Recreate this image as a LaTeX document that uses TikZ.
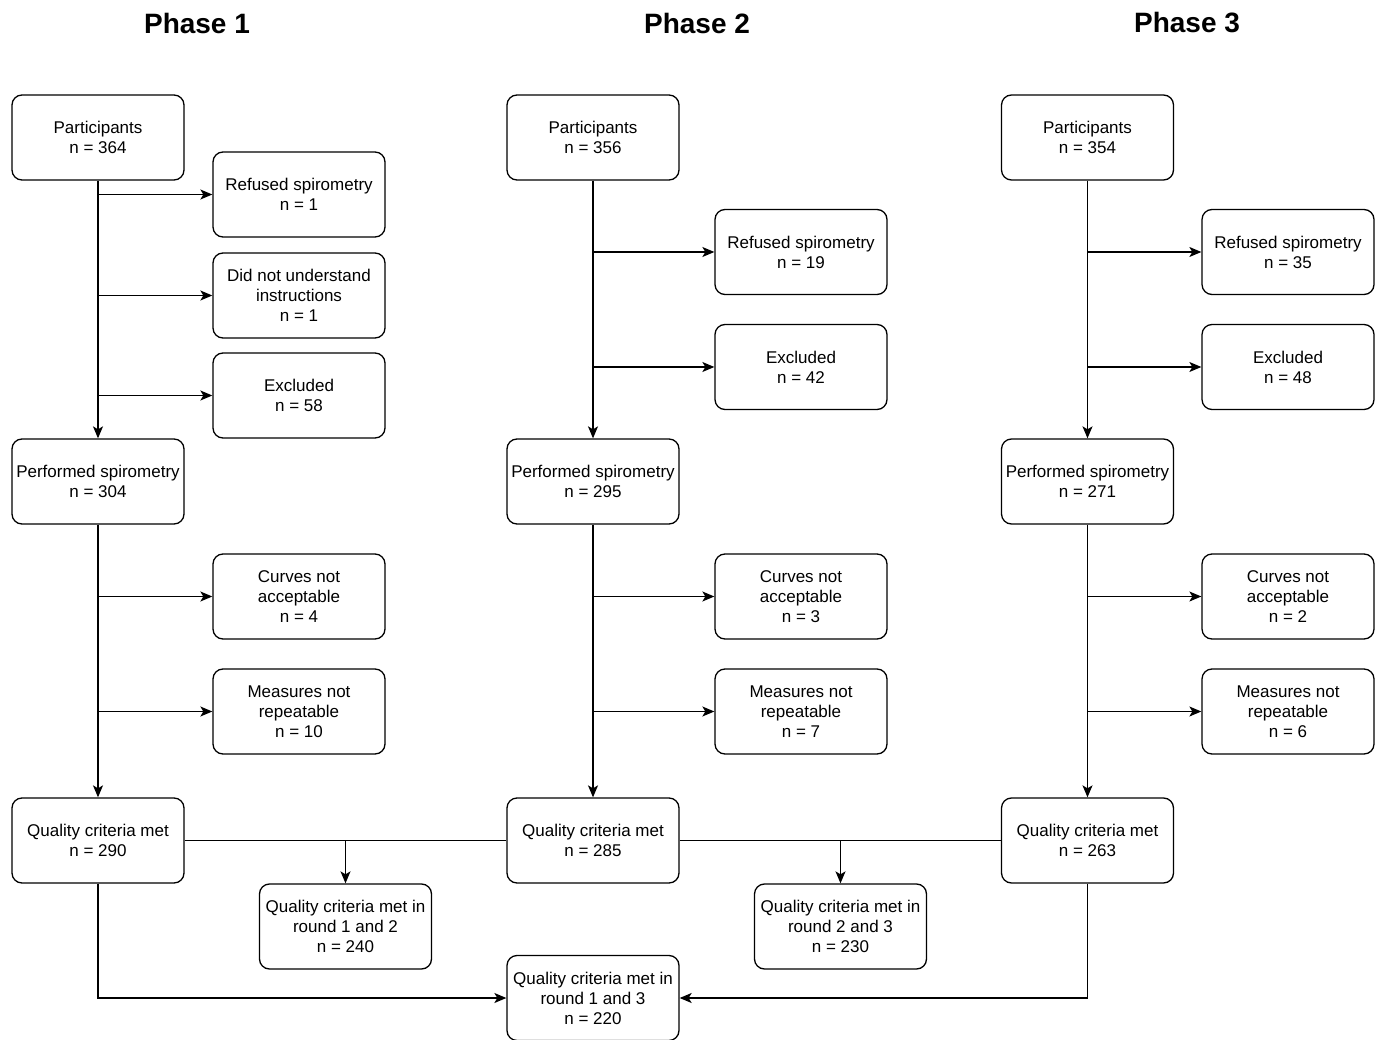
\documentclass[tikz,border=0pt]{standalone}
\usepackage{fontspec}
\setmainfont{Liberation Sans}
\usetikzlibrary{arrows.meta}

\tikzset{
	flowbox/.style = {draw, line width = 1.3pt, rounded corners = 10pt, minimum width = 172pt, minimum height = 85pt, align = center, inner sep = 2pt, font = \fontsize{17}{20}\selectfont},
	flowline/.style = {line width = 1.3pt},
	flowarrow/.style = {line width = 1.3pt, -{Stealth[length = 12pt, width = 10pt, inset = 3pt]}},
	phase/.style = {font = \fontsize{28}{32}\selectfont\bfseries}
}

\begin{document}
\begin{tikzpicture}[x = 1pt, y = -1pt]
	\useasboundingbox (0, 0) rectangle (1379, 1040);
	\node[phase] (t1) at (197, 23) {Phase 1};
	\node[phase] (t2) at (697, 23) {Phase 2};
	\node[phase] (t3) at (1187, 23) {Phase 3};
%%%%%%%%%%% phase 1
	\node[flowbox] (part1) at (98, 137.5) {Participants\\n = 364};
	\node[flowbox] (refu1) at (299, 194.5) {Refused spirometry\\n = 1};
	\node[flowbox] (dnu1) at (299, 295.5) {Did not understand\\instructions\\n = 1};
	\node[flowbox] (excl1) at (299, 395.5) {Excluded\\n = 58};
	\node[flowbox] (perf1) at (98, 481.5) {Performed spirometry\\n = 304};
	\node[flowbox] (curv1) at (299, 596.5) {Curves not\\acceptable\\n = 4};
	\node[flowbox] (meas1) at (299, 711.5) {Measures not\\repeatable\\n = 10};
	\node[flowbox] (qual1) at (98, 840.5) {Quality criteria met\\n = 290};
%%%%%%%%%%% phase 2
	\node[flowbox] (part2) at (593, 137.5) {Participants\\n = 356};
	\node[flowbox] (refu2) at (801, 252) {Refused spirometry\\n = 19};
	\node[flowbox] (excl2) at (801, 367) {Excluded\\n = 42};
	\node[flowbox] (perf2) at (593, 481.5) {Performed spirometry\\n = 295};
	\node[flowbox] (curv2) at (801, 596.5) {Curves not\\acceptable\\n = 3};
	\node[flowbox] (meas2) at (801, 711.5) {Measures not\\repeatable\\n = 7};
	\node[flowbox] (qual2) at (593, 840.5) {Quality criteria met\\n = 285};
%%%%%%%%%%% phase 3
	\node[flowbox] (part3) at (1087.5, 137.5) {Participants\\n = 354};
	\node[flowbox] (refu3) at (1288, 252) {Refused spirometry\\n = 35};
	\node[flowbox] (excl3) at (1288, 367) {Excluded\\n = 48};
	\node[flowbox] (perf3) at (1087.5, 481.5) {Performed spirometry\\n = 271};
	\node[flowbox] (curv3) at (1288, 596.5) {Curves not\\acceptable\\n = 2};
	\node[flowbox] (meas3) at (1288, 711.5) {Measures not\\repeatable\\n = 6};
	\node[flowbox] (qual3) at (1087.5, 840.5) {Quality criteria met\\n = 263};
%%%%%%%%%%% combined
	\node[flowbox] (both12) at (345.5, 926.5) {Quality criteria met in\\round 1 and 2\\n = 240};
	\node[flowbox] (both23) at (840.5, 926.5) {Quality criteria met in\\round 2 and 3\\n = 230};
	\node[flowbox] (both13) at (593, 998) {Quality criteria met in\\round 1 and 3\\n = 220};
%%%%%%%%%%% connectors
	\draw[flowarrow] (part1) -- (perf1);
	\draw[flowarrow] (part1 |- refu1) -- (refu1);
	\draw[flowarrow] (part1 |- dnu1) -- (dnu1);
	\draw[flowarrow] (part1 |- excl1) -- (excl1);
	\draw[flowarrow] (perf1) -- (qual1);
	\draw[flowarrow] (perf1 |- curv1) -- (curv1);
	\draw[flowarrow] (perf1 |- meas1) -- (meas1);
	\draw[flowarrow] (part2) -- (perf2);
	\draw[flowarrow] (part2 |- refu2) -- (refu2);
	\draw[flowarrow] (part2 |- excl2) -- (excl2);
	\draw[flowarrow] (perf2) -- (qual2);
	\draw[flowarrow] (perf2 |- curv2) -- (curv2);
	\draw[flowarrow] (perf2 |- meas2) -- (meas2);
	\draw[flowarrow] (part3) -- (perf3);
	\draw[flowarrow] (part3 |- refu3) -- (refu3);
	\draw[flowarrow] (part3 |- excl3) -- (excl3);
	\draw[flowarrow] (perf3) -- (qual3);
	\draw[flowarrow] (perf3 |- curv3) -- (curv3);
	\draw[flowarrow] (perf3 |- meas3) -- (meas3);
	\draw[flowline] (qual1) -- (qual2);
	\draw[flowline] (qual2) -- (qual3);
	\draw[flowarrow] (both12 |- qual1) -- (both12);
	\draw[flowarrow] (both23 |- qual2) -- (both23);
	\draw[flowarrow] (qual1) |- (both13);
	\draw[flowarrow] (qual3) |- (both13);
\end{tikzpicture}
\end{document}
